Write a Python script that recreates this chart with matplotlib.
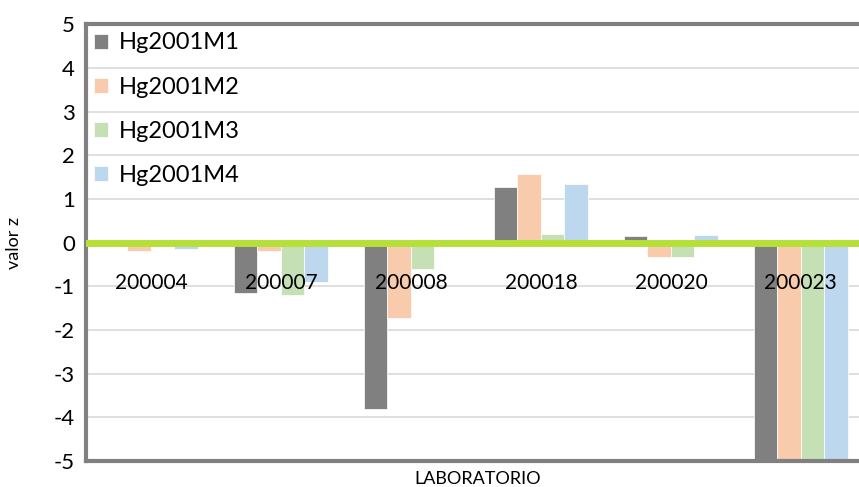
import numpy as np
import matplotlib.pyplot as plt

# Data
labs = ['200004', '200007', '200008', '200018', '200020', '200023']
series = ['Hg2001M1', 'Hg2001M2', 'Hg2001M3', 'Hg2001M4']
m1 = [0.0, -1.15, -3.82, 1.27, 0.14, -5.6]
m2 = [-0.20, -0.19, -1.73, 1.58, -0.32, -5.6]
m3 = [0.0, -1.21, -0.60, 0.19, -0.34, -5.6]
m4 = [-0.15, -0.90, -0.05, 1.35, 0.17, -5.6]
colors = ['#808080', '#f8cbad', '#c5e0b4', '#bdd7ee']

plt.rcParams['font.family'] = ['Lato', 'DejaVu Sans']
plt.rcParams['axes.unicode_minus'] = False

fig = plt.figure(figsize=(8.59, 4.87), dpi=100)
ax = fig.add_axes([0.100, 0.0534, 0.908, 0.897])

x = np.arange(len(labs))
w = 0.18
for k, (vals, name) in enumerate(zip([m1, m2, m3, m4], series)):
    ax.bar(x + (k - 1.5) * w, vals, w, color=colors[k], label=name,
           edgecolor='white', linewidth=0.5, zorder=2)

ax.axhline(0, color='#b5e03a', linewidth=5, zorder=3)

ax.set_ylim(-5, 5)
ax.set_xlim(-0.5, len(labs) - 0.5)
ax.set_yticks(range(-5, 6))
ax.tick_params(axis='y', labelsize=16, length=0, pad=8)
ax.set_xticks([])
ax.yaxis.grid(True, color='#d9d9d9', linewidth=1.2)
ax.set_axisbelow(True)

for i, lab in enumerate(labs):
    ax.text(i, -0.93, lab, ha='center', va='center', fontsize=15, zorder=4)

for s in ['left', 'bottom', 'top']:
    ax.spines[s].set_color('#808080')
    ax.spines[s].set_linewidth(3)
ax.spines['right'].set_visible(False)

ax.set_ylabel('valor z', fontsize=13)
ax.yaxis.set_label_coords(-0.082, 0.5)
ax.set_xlabel('LABORATORIO', fontsize=13)
ax.xaxis.set_label_coords((478 - 86) / 780, -0.022)

ax.legend(loc='upper left', frameon=False, fontsize=17, handlelength=0.6,
          handleheight=0.6, handletextpad=0.45, labelspacing=0.98,
          borderaxespad=0.25, borderpad=0.1)

fig.savefig('out.png', dpi=100)
